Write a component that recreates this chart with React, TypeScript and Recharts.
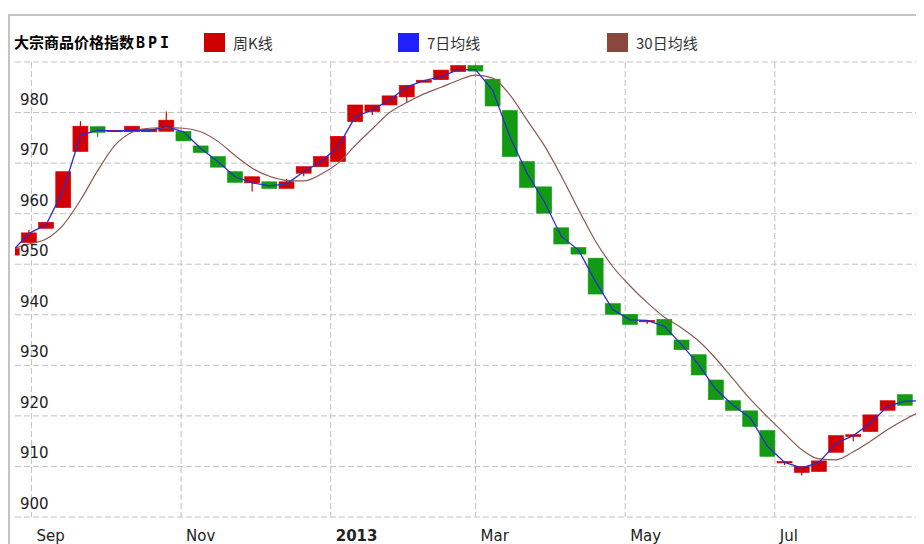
import { Bar, CartesianGrid, ComposedChart, Line, XAxis, YAxis } from "recharts"

// weekly candles (Fridays), last date only carries the moving averages
const dates = [
  "2012-08-24", "2012-08-31", "2012-09-07", "2012-09-14", "2012-09-21", "2012-09-28",
  "2012-10-05", "2012-10-12", "2012-10-19", "2012-10-26", "2012-11-02", "2012-11-09",
  "2012-11-16", "2012-11-23", "2012-11-30", "2012-12-07", "2012-12-14", "2012-12-21",
  "2012-12-28", "2013-01-04", "2013-01-11", "2013-01-18", "2013-01-25", "2013-02-01",
  "2013-02-08", "2013-02-15", "2013-02-22", "2013-03-01", "2013-03-08", "2013-03-15",
  "2013-03-22", "2013-03-29", "2013-04-05", "2013-04-12", "2013-04-19", "2013-04-26",
  "2013-05-03", "2013-05-10", "2013-05-17", "2013-05-24", "2013-05-31", "2013-06-07",
  "2013-06-14", "2013-06-21", "2013-06-28", "2013-07-05", "2013-07-12", "2013-07-19",
  "2013-07-26", "2013-08-02", "2013-08-09", "2013-08-16", "2013-08-23", "2013-08-30",
]

const open = [
  951.8, 954.3, 957.1, 961.2, 972.3, 977.2, 976.2, 976.2, 976.2, 976.3, 976.3, 973.4,
  971.3, 968.3, 966.1, 966.3, 965.0, 968.0, 969.3, 970.3, 978.2, 980.2, 981.5, 983.1,
  986.0, 986.5, 988.1, 989.3, 986.6, 980.4, 970.3, 965.3, 957.2, 953.3, 951.2, 942.2,
  940.1, 938.6, 939.1, 935.0, 932.1, 927.1, 923.0, 921.0, 917.1, 910.7, 908.8, 909.0,
  912.8, 915.9, 916.9, 921.1, 924.2,
]
const close = [
  953.1, 956.2, 958.3, 968.3, 977.3, 976.1, 976.5, 977.3, 976.7, 978.5, 974.4, 972.1,
  969.2, 966.2, 967.3, 965.0, 966.3, 969.3, 971.3, 975.3, 981.5, 981.5, 983.3, 985.4,
  986.4, 988.4, 989.3, 988.2, 981.3, 971.3, 965.2, 960.1, 954.0, 952.0, 944.1, 940.1,
  938.1, 938.9, 936.0, 933.1, 928.1, 923.2, 921.1, 917.9, 912.0, 911.0, 910.0, 911.1,
  916.1, 916.3, 920.2, 923.0, 922.1,
]
const high = [
  953.1, 956.8, 958.3, 968.3, 978.3, 977.2, 976.5, 977.3, 976.7, 980.2, 976.3, 973.4,
  971.3, 968.3, 967.3, 966.3, 966.9, 969.3, 971.3, 975.3, 981.5, 981.5, 983.3, 985.4,
  986.4, 988.4, 989.3, 989.3, 986.6, 980.4, 970.3, 965.3, 957.2, 953.3, 951.2, 942.2,
  940.1, 938.9, 939.1, 935.0, 932.1, 927.1, 923.0, 921.0, 917.1, 911.1, 910.0, 911.1,
  916.1, 916.3, 920.2, 923.0, 924.2,
]
const low = [
  951.8, 954.3, 957.1, 961.2, 972.3, 975.2, 976.2, 976.2, 976.2, 976.3, 974.4, 972.1,
  969.2, 966.2, 964.4, 965.0, 965.0, 967.4, 969.3, 970.3, 978.2, 979.5, 981.5, 982.1,
  986.0, 986.5, 988.1, 988.2, 981.3, 971.3, 965.2, 960.1, 954.0, 952.0, 944.1, 940.1,
  938.1, 938.2, 936.0, 933.1, 928.1, 923.2, 921.1, 917.9, 912.0, 910.3, 908.2, 909.0,
  912.8, 915.0, 916.9, 921.1, 922.1,
]

const ma7 = [
  952.5, 956.1, 957.8, 964.7, 975.5, 976.5, 976.3, 976.5, 976.4, 977.2, 976.2, 972.9,
  970.3, 967.3, 966.1, 965.5, 965.9, 968.3, 970.3, 973.2, 979.2, 980.5, 982.5, 985.1,
  986.3, 987.1, 988.5, 988.5, 984.4, 975.2, 968.0, 962.4, 955.5, 952.8, 946.5, 941.0,
  939.0, 938.9, 937.7, 934.1, 930.1, 925.2, 922.1, 919.6, 914.0, 910.8, 909.7, 910.8,
  914.6, 916.1, 918.6, 921.9, 922.9, 923.0,
]
const ma30 = [
  953.0, 954.0, 955.0, 957.8, 962.7, 968.5, 973.5, 976.1, 976.9, 977.0, 976.9, 976.2,
  974.3, 971.5, 969.0, 967.4, 966.6, 966.5, 967.8, 970.0, 973.5, 976.8, 980.0, 982.0,
  983.7, 985.0, 986.4, 987.4, 986.8, 983.5, 978.5, 973.5, 967.4, 960.8, 954.5, 949.5,
  945.7, 942.4, 939.5, 937.4, 934.8, 931.3, 927.3, 923.3, 919.8, 916.5, 913.3, 911.5,
  911.3, 912.9, 915.0, 917.3, 919.3, 921.0,
]

const yTicks = [900, 910, 920, 930, 940, 950, 960, 970, 980, 990]
const monthTicks = ["2012-09-01", "2012-11-01", "2013-01-01", "2013-03-01", "2013-05-01", "2013-07-01"]
const monthLabels = ["Sep", "Nov", "2013", "Mar", "May", "Jul"]

const titleMain = "大宗商品价格指数"
const titleCode = "BPI"
const legendNames = ["周K线", "7日均线", "30日均线"]

const RED = "#d20000"
const GREEN = "#139a13"
const BLUE = "#2b2bd0"
const BROWN = "#8a5a52"
const legendColors = ["#d00000", "#1f1fff", "#8b4640"]
const legendLeft = [196, 390, 599]

const W = 916
const H = 536
const PLOT_LEFT = 7
const X_DOMAIN = [1.3, 371.8]

const day = (s: string) => (Date.parse(s) - Date.parse("2012-08-24")) / 86400000

const data = dates.map((d, i) => ({
  t: day(d),
  open: open[i] ?? null,
  close: close[i] ?? null,
  hi: high[i] ?? null,
  lo: low[i] ?? null,
  ma7: ma7[i],
  ma30: ma30[i],
}))

const tickDays = monthTicks.map(day)

function Candle(props: any) {
  const { x, y, width, height, payload } = props
  if (payload.open == null) return null
  const { open: o, close: c, hi, lo } = payload
  const color = c >= o ? RED : GREEN
  const top = Math.min(y, y + height)
  const h = Math.abs(height)
  const k = hi - lo > 0 ? h / (hi - lo) : 0
  const bodyTop = top + (hi - Math.max(o, c)) * k
  const bodyH = Math.max(Math.abs(c - o) * k, 1.5)
  const cx = x + width / 2
  return (
    <g>
      <line x1={cx} x2={cx} y1={top} y2={top + h} stroke={color} strokeWidth={1.2} />
      <rect x={x} y={bodyTop} width={width} height={bodyH} fill={color} stroke={color} strokeWidth={0.6} />
    </g>
  )
}

function YTick(props: any) {
  const { y, payload } = props
  if (payload.value === 990) return <g />
  return (
    <text x={PLOT_LEFT + 5} y={y - 8} fill="#222" fontSize={15} fontFamily="DejaVu Sans" textAnchor="start">
      {payload.value}
    </text>
  )
}

function XTick(props: any) {
  const { x, y, payload } = props
  const label = monthLabels[tickDays.indexOf(payload.value)]
  return (
    <text
      x={x + 5}
      y={y + 24}
      fill="#222"
      fontSize={15}
      fontFamily="DejaVu Sans"
      fontWeight={label === "2013" ? "bold" : "normal"}
      textAnchor="start"
    >
      {label}
    </text>
  )
}

// vertical grid only at the month ticks
const monthLines = ({ offset }: any) =>
  tickDays.map((t) => offset.left + ((t - X_DOMAIN[0]) / (X_DOMAIN[1] - X_DOMAIN[0])) * offset.width)

export default function App() {
  return (
    <div style={{ position: "relative", width: W, height: H, fontFamily: "Noto Sans CJK SC" }}>
      <div style={{ position: "absolute", left: 0, top: 6, width: W, height: 2, background: "#c4c4c4" }} />
      <div style={{ position: "absolute", left: 0, top: 6, width: 2, height: H - 6, background: "#c4c4c4" }} />
      <div
        style={{
          position: "absolute",
          left: 6,
          top: 24,
          height: 20,
          lineHeight: "20px",
          fontSize: 15,
          fontWeight: "bold",
          color: "#000",
          whiteSpace: "nowrap",
        }}
      >
        {titleMain}
        <span style={{ fontFamily: "DejaVu Sans Mono", letterSpacing: 3, marginLeft: 2 }}>{titleCode}</span>
      </div>
      {legendNames.map((name, i) => (
        <div
          key={name}
          style={{ position: "absolute", left: legendLeft[i], top: 24, height: 20, display: "flex", alignItems: "center" }}
        >
          <span style={{ display: "inline-block", width: 21, height: 19, background: legendColors[i] }} />
          <span style={{ marginLeft: 8, fontSize: 15, color: "#333", whiteSpace: "nowrap" }}>{name}</span>
        </div>
      ))}
      <ComposedChart
        width={W}
        height={H}
        data={data}
        margin={{ top: 54, right: 0, bottom: 0, left: PLOT_LEFT - 1 }}
        style={{ position: "absolute", left: 0, top: 0 }}
      >
        <CartesianGrid stroke="#c2c2c2" strokeDasharray="6 3" verticalCoordinatesGenerator={monthLines} />
        <XAxis
          dataKey="t"
          type="number"
          domain={X_DOMAIN}
          allowDataOverflow
          ticks={tickDays}
          interval={0}
          axisLine={false}
          tickLine={false}
          tickSize={0}
          tickMargin={0}
          height={27}
          tick={<XTick />}
        />
        <YAxis
          type="number"
          domain={[900, 990]}
          allowDataOverflow
          ticks={yTicks}
          interval={0}
          width={1}
          axisLine={false}
          tickLine={false}
          tick={<YTick />}
        />
        <Bar
          dataKey={(d: any) => (d.open == null ? null : [d.lo, d.hi])}
          barSize={15}
          shape={<Candle />}
          isAnimationActive={false}
        />
        <Line dataKey="ma30" type="monotone" stroke={BROWN} strokeWidth={1.2} dot={false} isAnimationActive={false} />
        <Line dataKey="ma7" type="linear" stroke={BLUE} strokeWidth={1.3} dot={false} isAnimationActive={false} />
      </ComposedChart>
    </div>
  )
}
